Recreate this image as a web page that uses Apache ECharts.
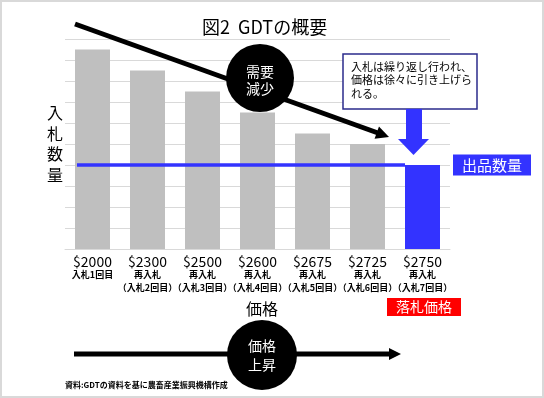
<!DOCTYPE html>
<html>
<head>
<meta charset="utf-8">
<script src="https://cdn.jsdelivr.net/npm/echarts@6/dist/echarts.min.js"></script>
<style>
  html, body { margin: 0; padding: 0; background: #fff; }
  #main { width: 544px; height: 398px; }
</style>
</head>
<body>
<div id="main"></div>
<script>
const prices = ["$2000", "$2300", "$2500", "$2600", "$2675", "$2725", "$2750"];
const rounds = ["入札1回目", "再入札", "再入札", "再入札", "再入札", "再入札", "再入札"];
const roundNotes = ["", "（入札2回目）", "（入札3回目）", "（入札4回目）", "（入札5回目）", "（入札6回目）", "（入札7回目）"];
const bidQuantity = [9.5, 8.5, 7.5, 6.5, 5.5, 5, 4];
const supplyQuantity = 4;

const FONT = "'Noto Sans CJK JP', 'Noto Sans', sans-serif";
const GRAY = "#bfbfbf";
const BLUE = "#3333ff";

const chart = echarts.init(document.getElementById("main"));

// arrow head helper for the decorative arrows
function head(tx, ty, dx, dy, len, half) {
  const l = Math.hypot(dx, dy);
  const ux = dx / l, uy = dy / l;
  const bx = tx - ux * len, by = ty - uy * len;
  return [[tx, ty], [bx - uy * half, by + ux * half], [bx + uy * half, by - ux * half]];
}

chart.setOption({
  animation: false,
  textStyle: { fontFamily: FONT },
  title: {
    text: "図2  GDTの概要",
    left: 197,
    top: 13,
    textStyle: { fontFamily: FONT, fontSize: 18, fontWeight: "normal", color: "#000" },
  },
  grid: { left: 65, right: 94, top: 39, bottom: 149 },
  xAxis: {
    type: "category",
    data: prices,
    name: "価格",
    nameLocation: "middle",
    nameGap: 52,
    nameTextStyle: { fontSize: 16, color: "#000", padding: [0, 0, 0, 9] },
    axisLine: { lineStyle: { color: "#d9d9d9" } },
    axisTick: { show: false },
    axisLabel: {
      interval: 0,
      margin: 7,
      color: "#000",
      formatter: (value, idx) =>
        `{p|${value}}\n{r|${rounds[idx]}}` + (roundNotes[idx] ? `\n{r|${roundNotes[idx]}}` : ""),
      rich: {
        p: { fontSize: 14, lineHeight: 12, color: "#000", fontFamily: FONT },
        r: { fontSize: 9, lineHeight: 13, fontWeight: "bold", color: "#000", fontFamily: FONT },
      },
    },
  },
  yAxis: {
    type: "value",
    min: 0,
    max: 10,
    interval: 1,
    name: "入\n札\n数\n量",
    nameLocation: "middle",
    nameRotate: 0,
    nameGap: 2,
    nameTextStyle: { fontSize: 16, lineHeight: 20.5, color: "#000", padding: [21, 0, 0, 0] },
    axisLabel: { show: false },
    axisTick: { show: false },
    axisLine: { show: false },
    splitLine: { lineStyle: { color: "#d9d9d9" } },
  },
  series: [
    {
      type: "bar",
      data: bidQuantity,
      barWidth: 35,
      itemStyle: {
        color: (p) => (p.dataIndex === prices.length - 1 ? BLUE : GRAY),
      },
      markLine: {
        silent: true,
        symbol: ["none", "none"],
        lineStyle: { color: BLUE, width: 3.5, type: "solid" },
        label: {
          position: "end",
          distance: 48,
          formatter: "出品数量",
          color: "#fff",
          fontSize: 15,
          fontFamily: FONT,
          backgroundColor: BLUE,
          padding: [3, 9],
        },
        data: [
          [
            { coord: [0, supplyQuantity], x: 77 },
            { coord: [prices.length - 1, supplyQuantity], x: 405 },
          ],
        ],
      },
    },
  ],
  graphic: [
    // outer frame
    { type: "rect", shape: { x: 1, y: 1, width: 542, height: 396 }, style: { fill: "none", stroke: "#d9d9d9", lineWidth: 2 } },
    // demand decrease arrow
    { type: "line", shape: { x1: 75, y1: 24, x2: 378, y2: 133 }, style: { stroke: "#000", lineWidth: 5 }, z: 10 },
    { type: "polygon", shape: { points: head(389, 137, 314, 113, 13, 6.5) }, style: { fill: "#000" }, z: 10 },
    { type: "circle", shape: { cx: 260, cy: 78, r: 34 }, style: { fill: "#000" }, z: 11 },
    {
      type: "text", x: 260, y: 80, z: 12,
      style: { text: "需要\n減少", fill: "#fff", font: `14px ${FONT}`, align: "center", verticalAlign: "middle", lineHeight: 17 },
    },
    // note box
    { type: "rect", shape: { x: 343, y: 54, width: 134, height: 55 }, style: { fill: "#fff", stroke: "#2b2b8c", lineWidth: 1.5 }, z: 10 },
    {
      type: "text", x: 351, y: 60, z: 11,
      style: { text: "入札は繰り返し行われ、\n価格は徐々に引き上げら\nれる。", fill: "#000", font: `11px ${FONT}`, lineHeight: 13.5 },
    },
    {
      type: "polygon", z: 10,
      shape: { points: [[406, 109], [422, 109], [422, 139], [429, 139], [413.5, 155], [398, 139], [406, 139]] },
      style: { fill: BLUE },
    },
    // winning price tag
    {
      type: "text", x: 387, y: 298, z: 10,
      style: { text: "落札価格", fill: "#fff", font: `14px ${FONT}`, backgroundColor: "#ff0000", padding: [2, 9] },
    },
    // price rise arrow
    { type: "line", shape: { x1: 74, y1: 354, x2: 390, y2: 354 }, style: { stroke: "#000", lineWidth: 5 }, z: 10 },
    { type: "polygon", shape: { points: head(401, 354, 1, 0, 12, 6) }, style: { fill: "#000" }, z: 10 },
    { type: "circle", shape: { cx: 262, cy: 355, r: 35 }, style: { fill: "#000" }, z: 11 },
    {
      type: "text", x: 262, y: 355, z: 12,
      style: { text: "価格\n上昇", fill: "#fff", font: `14px ${FONT}`, align: "center", verticalAlign: "middle", lineHeight: 19.5 },
    },
    // source
    {
      type: "text", x: 65, y: 381, z: 10,
      style: { text: "資料:GDTの資料を基に農畜産業振興機構作成", fill: "#000", font: `bold 8px ${FONT}` },
    },
  ],
});
</script>
</body>
</html>
